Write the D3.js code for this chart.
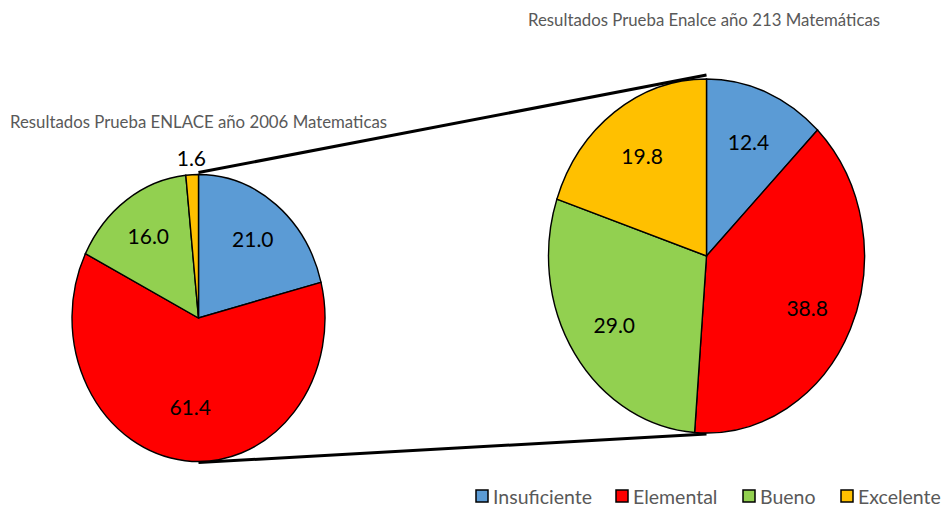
<!DOCTYPE html>
<html>
<head>
<meta charset="utf-8">
<script src="https://cdn.jsdelivr.net/npm/d3@7"></script>
<style>
  body { margin: 0; background: #fff; }
  text { font-family: Lato, "Noto Sans", sans-serif; }
</style>
</head>
<body>
<div id="chart"></div>
<script>
// datos
const categorias = ["Insuficiente", "Elemental", "Bueno", "Excelente"]
const colores = ["#5b9bd5", "#ff0000", "#92d050", "#ffc000"]
const valores2006 = [21.0, 61.4, 16.0, 1.6]
const valores2013 = [12.4, 38.8, 29.0, 19.8]
const titulo2006 = "Resultados Prueba ENLACE año 2006 Matematicas"
const titulo2013 = "Resultados Prueba Enalce año 213 Matemáticas"

const width = 943, height = 506

const svg = d3.select("#chart")
  .append("svg")
  .attr("width", width)
  .attr("height", height)

const color = d3.scaleOrdinal().domain(categorias).range(colores)

const pie = d3.pie().sort(null).value(d => d.v)

// pies are stretched vertically (same as the original)
const pies = [
  { valores: valores2006, cx: 198.5, cy: 318, rx: 126.5, ry: 143.5 },
  { valores: valores2013, cx: 706.5, cy: 256, rx: 158, ry: 177 }
]

// connector lines first, under the pies
const conectores = [
  [[pies[0].cx, pies[0].cy - pies[0].ry - 2], [pies[1].cx, pies[1].cy - pies[1].ry - 4]],
  [[pies[0].cx, pies[0].cy + pies[0].ry + 1], [pies[1].cx, pies[1].cy + pies[1].ry + 1]]
]
svg.selectAll("line.con")
  .data(conectores)
  .enter().append("line")
  .attr("class", "con")
  .attr("x1", d => d[0][0]).attr("y1", d => d[0][1])
  .attr("x2", d => d[1][0]).attr("y2", d => d[1][1])
  .attr("stroke", "#000")
  .attr("stroke-width", 3)

pies.forEach(p => {
  const datos = p.valores.map((v, i) => ({ cat: categorias[i], v: v }))
  const arcos = pie(datos)
  const sy = p.ry / p.rx
  const arc = d3.arc().innerRadius(0).outerRadius(p.rx)

  const g = svg.append("g")
    .attr("transform", `translate(${p.cx}, ${p.cy}) scale(1, ${sy})`)

  g.selectAll("path")
    .data(arcos)
    .enter().append("path")
    .attr("d", arc)
    .attr("fill", d => color(d.data.cat))
    .attr("stroke", "#000")
    .attr("stroke-width", 1.4)
    .attr("vector-effect", "non-scaling-stroke")

  // etiquetas
  const radioEtiqueta = d => d.data.v < 5 ? 1.12 : (d.data.v > 50 ? 0.62 : 0.7)
  svg.append("g")
    .attr("transform", `translate(${p.cx}, ${p.cy})`)
    .selectAll("text")
    .data(arcos)
    .enter().append("text")
    .attr("x", d => {
      const a = (d.startAngle + d.endAngle) / 2
      return Math.sin(a) * radioEtiqueta(d) * p.rx
    })
    .attr("y", d => {
      const a = (d.startAngle + d.endAngle) / 2
      return -Math.cos(a) * radioEtiqueta(d) * p.ry
    })
    .attr("text-anchor", "middle")
    .attr("dominant-baseline", "central")
    .attr("font-size", 21)
    .attr("fill", "#000")
    .text(d => d.data.v.toFixed(1))
})

// titulos
svg.append("text")
  .attr("x", 10).attr("y", 128)
  .attr("font-size", 16.8)
  .attr("fill", "#595959")
  .text(titulo2006)

svg.append("text")
  .attr("x", 528).attr("y", 26)
  .attr("font-size", 16.8)
  .attr("fill", "#595959")
  .text(titulo2013)

// leyenda
const leyendaX = [476, 616, 743, 841]
const leyenda = svg.append("g")
  .selectAll("g")
  .data(categorias)
  .enter().append("g")
  .attr("transform", (d, i) => `translate(${leyendaX[i]}, 496)`)

leyenda.append("rect")
  .attr("x", 0).attr("y", -6)
  .attr("width", 12).attr("height", 12)
  .attr("fill", d => color(d))
  .attr("stroke", "#000")
  .attr("stroke-width", 1.5)

leyenda.append("text")
  .attr("x", 17).attr("y", 0)
  .attr("dominant-baseline", "central")
  .attr("font-size", 19.5)
  .attr("fill", "#595959")
  .text(d => d)
</script>
</body>
</html>
